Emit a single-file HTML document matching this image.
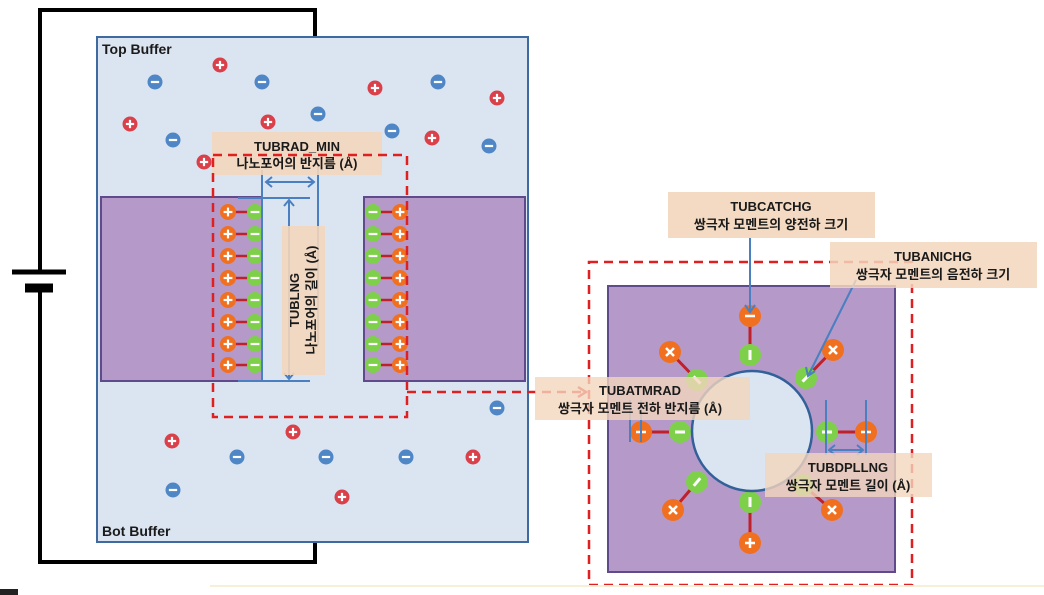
<!DOCTYPE html>
<html><head><meta charset="utf-8"><style>
html,body{margin:0;padding:0;background:#fff;width:1044px;height:595px;overflow:hidden}
svg{display:block}
text{font-family:"Liberation Sans","Noto Sans CJK KR",sans-serif;fill:#1a1a1a}
.b{font-weight:bold}
</style></head><body>
<svg id="s" width="1044" height="595" viewBox="0 0 1044 595" xmlns="http://www.w3.org/2000/svg">
<g stroke="#000" stroke-width="4" fill="none">
<polyline points="315,37 315,10 40,10 40,270"/>
<polyline points="315,542 315,562 40,562 40,290"/>
<line x1="12" y1="272" x2="66" y2="272" stroke-width="5"/>
<line x1="25" y1="288" x2="53" y2="288" stroke-width="9"/>
</g>
<rect x="97" y="37" width="431" height="505" fill="#dbe5f1" stroke="#3f6aa0" stroke-width="2"/>
<text class="b" x="102" y="54" font-size="14">Top Buffer</text>
<text class="b" x="102" y="536" font-size="14">Bot Buffer</text>
<rect x="101" y="197" width="161" height="184" fill="#b59ac9" stroke="#5f4a8b" stroke-width="2"/>
<rect x="364" y="197" width="161" height="184" fill="#b59ac9" stroke="#5f4a8b" stroke-width="2"/>
<g id="ions"></g>
<g id="pore"></g>
<g stroke="#4a7fc0" stroke-width="2" fill="none">
<line x1="262" y1="170" x2="262" y2="381"/>
<line x1="318" y1="165" x2="318" y2="345"/>
<line x1="238" y1="198" x2="310" y2="198"/>
<line x1="238" y1="381" x2="310" y2="381"/>
<line x1="266" y1="182" x2="314" y2="182"/>
<polyline points="272,177 266,182 272,187"/><polyline points="308,177 314,182 308,187"/>
<line x1="289" y1="200" x2="289" y2="379"/>
<polyline points="284,206 289,200 294,206"/><polyline points="284,373 289,379 294,373"/>
</g>
<rect x="212" y="132" width="170" height="43" fill="#f3d6bd" opacity="0.9"/>
<text class="b" x="297" y="151" font-size="13" text-anchor="middle">TUBRAD_MIN</text>
<text class="b" x="297" y="168" font-size="13" text-anchor="middle">나노포어의 반지름 (Å)</text>
<rect x="282" y="226" width="43" height="149" fill="#f3d6bd" opacity="0.9"/>
<g transform="translate(303,300) rotate(-90)">
<text class="b" x="0" y="-4" font-size="13" text-anchor="middle">TUBLNG</text>
<text class="b" x="0" y="13" font-size="13" text-anchor="middle">나노포어의 길이 (Å)</text>
</g>
<g stroke="#e02020" stroke-width="2.5" stroke-dasharray="9,6" fill="none">
<rect x="213" y="155" width="194" height="262"/>
<line x1="407" y1="392" x2="585" y2="392"/>
<polyline points="578,387 586,392 578,397" stroke-dasharray="none"/>
<rect x="589" y="262" width="323" height="323"/>
</g>
<rect x="608" y="286" width="287" height="286" fill="#b59ac9" stroke="#5f4a8b" stroke-width="2"/>
<g id="dip"></g>
<circle cx="752" cy="431" r="60" fill="#dbe5f1" stroke="#34609a" stroke-width="2.5"/>
<g stroke="#4a7fc0" stroke-width="2" fill="none">
<line x1="750" y1="238" x2="750" y2="312"/><polyline points="745,305 750,312 755,305"/>
<line x1="856" y1="280" x2="808" y2="376"/><polyline points="806,367 808,376 815,371"/>
<line x1="630" y1="400" x2="630" y2="442"/><line x1="641" y1="400" x2="641" y2="442"/>
<line x1="826" y1="400" x2="826" y2="455"/><line x1="866" y1="400" x2="866" y2="455"/>
<line x1="829" y1="450" x2="863" y2="450"/>
<polyline points="835,445 829,450 835,455"/><polyline points="857,445 863,450 857,455"/>
</g>
<rect x="668" y="192" width="207" height="46" fill="#f3d6bd" opacity="0.9"/>
<text class="b" x="771" y="211" font-size="13" text-anchor="middle">TUBCATCHG</text>
<text class="b" x="771" y="229" font-size="13" text-anchor="middle">쌍극자 모멘트의 양전하 크기</text>
<rect x="830" y="242" width="207" height="46" fill="#f3d6bd" opacity="0.85"/>
<text class="b" x="933" y="261" font-size="13" text-anchor="middle">TUBANICHG</text>
<text class="b" x="933" y="279" font-size="13" text-anchor="middle">쌍극자 모멘트의 음전하 크기</text>
<rect x="535" y="377" width="215" height="43" fill="#f3d6bd" opacity="0.8"/>
<text class="b" x="640" y="395" font-size="13" text-anchor="middle">TUBATMRAD</text>
<text class="b" x="640" y="413" font-size="13" text-anchor="middle">쌍극자 모멘트 전하 반지름 (Å)</text>
<rect x="765" y="453" width="167" height="44" fill="#f3d6bd" opacity="0.8"/>
<text class="b" x="848" y="472" font-size="13" text-anchor="middle">TUBDPLLNG</text>
<text class="b" x="848" y="490" font-size="13" text-anchor="middle">쌍극자 모멘트 길이 (Å)</text>
<rect x="0" y="589" width="18" height="6" fill="#222"/>
<line x1="210" y1="586" x2="1044" y2="586" stroke="#f6f0d8" stroke-width="2"/>
</svg>
<script>
const NS="http://www.w3.org/2000/svg";
function mk(t,a,p){const e=document.createElementNS(NS,t);for(const k in a)e.setAttribute(k,a[k]);p.appendChild(e);return e;}
function charge(g,x,y,r,fill,sign){
  mk('circle',{cx:x,cy:y,r:r,fill:fill},g);
  const w=r*0.55;
  mk('line',{x1:x-w,y1:y,x2:x+w,y2:y,stroke:'#fff','stroke-width':2.2},g);
  if(sign==='+')mk('line',{x1:x,y1:y-w,x2:x,y2:y+w,stroke:'#fff','stroke-width':2.2},g);
}
const plusIons=[[220,65],[375,88],[497,98],[130,124],[268,122],[432,138],[204,162],[172,441],[293,432],[473,457],[342,497]];
const minusIons=[[155,82],[262,82],[438,82],[318,114],[173,140],[392,131],[489,146],[497,408],[237,457],[326,457],[406,457],[173,490]];
const ions=document.getElementById('ions');
plusIons.forEach(p=>{const g=mk('g',{},ions);


charge(g,p[0],p[1],7.5,'#d9404a','+');});
minusIons.forEach(p=>{const g=mk('g',{},ions);


charge(g,p[0],p[1],7.5,'#4f86c6','-');});
const poreRows=[212,234,256,278,300,322,344,365];
const pore=document.getElementById('pore');
poreRows.forEach(y=>{
  const g=mk('g',{},pore);
  
  
  mk('line',{x1:228,y1:y,x2:255,y2:y,stroke:'#c0202a','stroke-width':2.5},g);
  charge(g,228,y,8,'#f07020','+');charge(g,255,y,8,'#7ed04a','-');
  const h=mk('g',{},pore);
  
  
  mk('line',{x1:373,y1:y,x2:400,y2:y,stroke:'#c0202a','stroke-width':2.5},h);
  charge(h,373,y,8,'#7ed04a','-');charge(h,400,y,8,'#f07020','+');
});
const dipoles=[[750,355,750,316,'-'],[697,380,670,352,'x'],[806,378,833,350,'x'],[680,432,641,432,'-'],[827,432,866,432,'-'],[697,482,673,510,'x'],[750,502,750,543,'+'],[803,485,832,510,'x']];
const dip=document.getElementById('dip');
dipoles.forEach(d=>{
  const g=mk('g',{},dip);
  
  
  mk('line',{x1:d[0],y1:d[1],x2:d[2],y2:d[3],stroke:'#c0202a','stroke-width':3},g);
  mk('circle',{cx:d[0],cy:d[1],r:11,fill:'#7ed04a'},g);
  const dx=d[2]-d[0],dy=d[3]-d[1],L=Math.hypot(dx,dy),ux=dx/L*5,uy=dy/L*5;
  mk('line',{x1:d[0]-ux,y1:d[1]-uy,x2:d[0]+ux,y2:d[1]+uy,stroke:'#fff','stroke-width':3},g);
  mk('circle',{cx:d[2],cy:d[3],r:11,fill:'#f07020'},g);
  const x=d[2],y=d[3];
  if(d[4]==='x'){mk('path',{d:`M${x-4},${y-4}L${x+4},${y+4}M${x+4},${y-4}L${x-4},${y+4}`,stroke:'#fff','stroke-width':2.5},g);}
  else{mk('line',{x1:x-5,y1:y,x2:x+5,y2:y,stroke:'#fff','stroke-width':2.5},g);
  if(d[4]==='+')mk('line',{x1:x,y1:y-5,x2:x,y2:y+5,stroke:'#fff','stroke-width':2.5},g);}
});
</script>
</body></html>
